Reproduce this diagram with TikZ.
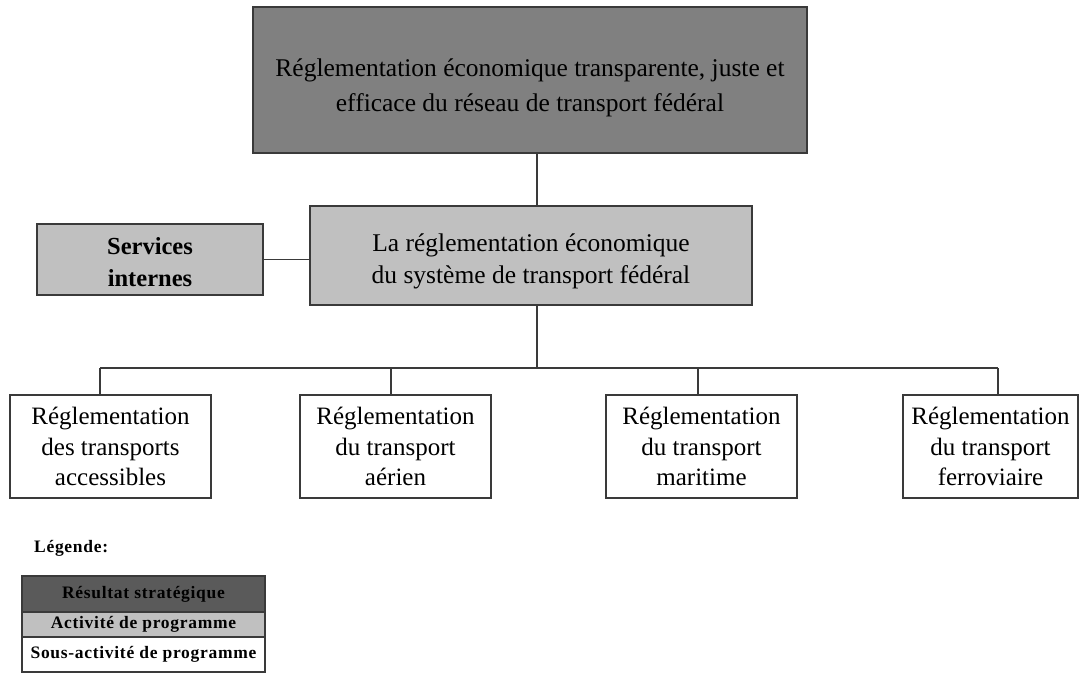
\documentclass[tikz,border=0pt]{standalone}
\usepackage{fontspec}
\setmainfont{Liberation Serif}
\newfontfamily\legfont[LetterSpace=4]{Liberation Serif}
\definecolor{dk}{HTML}{808080}
\definecolor{lt}{HTML}{C0C0C0}
\definecolor{lgdk}{HTML}{5A5A5A}
\definecolor{bd}{HTML}{3A3A3A}
\tikzset{
  box/.style={draw=bd, line width=1.2pt, inner sep=0pt, align=center},
  lbl/.style={inner sep=0pt, align=center},
  conn/.style={draw=bd, line width=1.2pt},
  legrow/.style={draw=bd, line width=1.2pt, inner sep=0pt, minimum width=243pt,
     font=\legfont\bfseries\fontsize{17.5}{20}\selectfont}
}
\begin{document}
\begin{tikzpicture}[x=1pt,y=-1pt]
\useasboundingbox (0,0) rectangle (1086,672);
\node[box, fill=dk, minimum width=554pt, minimum height=146pt] (top) at (530,80) {};
\node[lbl, font=\fontsize{25.5}{35}\selectfont] (toptext) at (530,88)
  {Réglementation économique transparente, juste et\\efficace du réseau de transport fédéral};
\node[box, fill=lt, minimum width=442pt, minimum height=99pt] (mid) at (531,255.5) {};
\node[lbl, font=\fontsize{25.5}{32}\selectfont] (midtext) at (531,261.5)
  {La réglementation économique\\du système de transport fédéral};
\node[box, fill=lt, minimum width=226pt, minimum height=71pt] (svc) at (150,259.5) {};
\node[lbl, font=\bfseries\fontsize{24.5}{32}\selectfont] (svctext) at (150,262.5)
  {Services\\internes};
\tikzset{bbox/.style={box, fill=white, minimum height=103pt, font=\fontsize{25}{30.5}\selectfont}}
\node[bbox, minimum width=201pt] (b1) at (110.5,446.5) {Réglementation\\des transports\\accessibles};
\node[bbox, minimum width=191pt] (b2) at (395.5,446.5) {Réglementation\\du transport\\aérien};
\node[bbox, minimum width=191pt] (b3) at (701.5,446.5) {Réglementation\\du transport\\maritime};
\node[bbox, minimum width=175pt] (b4) at (990.5,446.5) {Réglementation\\du transport\\ferroviaire};
\coordinate (j) at (537,368);
\coordinate (d1) at (100,368);
\coordinate (d2) at (391,368);
\coordinate (d3) at (698,368);
\coordinate (d4) at (998,368);
\draw[conn] (top.south -| j) -- (mid.north -| j);
\draw[conn] (mid.south -| j) -- (j);
\draw[conn] (svc.east) -- (svc.east -| mid.west);
\draw[conn] (d1) -- (d4);
\draw[conn] (d1) -- (b1.north -| d1);
\draw[conn] (d2) -- (b2.north -| d2);
\draw[conn] (d3) -- (b3.north -| d3);
\draw[conn] (d4) -- (b4.north -| d4);
\node[anchor=west, inner sep=0pt, font=\legfont\bfseries\fontsize{17.5}{20}\selectfont] (leg) at (34,548) {Légende:};
\node[legrow, fill=lgdk, minimum height=36pt, text=black] (l1) at (143.5,594) {Résultat stratégique};
\node[legrow, fill=lt, minimum height=25pt] (l2) at (143.5,624.5) {Activité de programme};
\node[legrow, fill=white, minimum height=35pt] (l3) at (143.5,654.5) {Sous-activité de programme};
\end{tikzpicture}
\end{document}
